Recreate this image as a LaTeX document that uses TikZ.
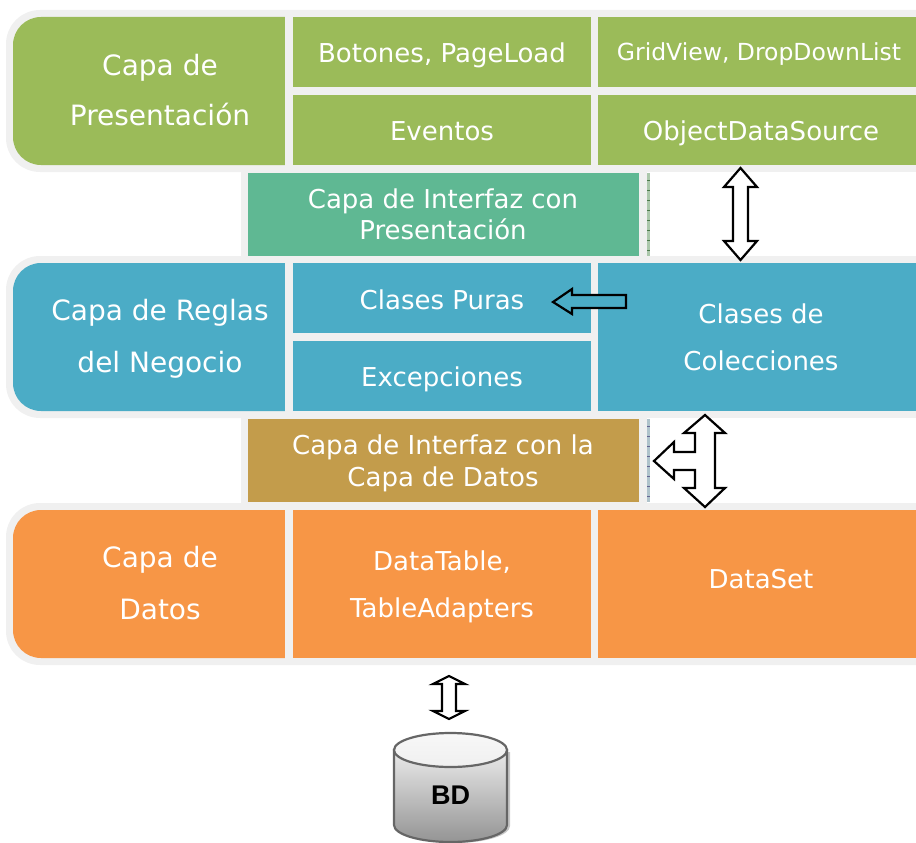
\documentclass[tikz,border=0pt]{standalone}
\usepackage{fontspec}
\setmainfont{DejaVu Sans}
\definecolor{cgreen}{HTML}{9BBB59}
\definecolor{cteal}{HTML}{5FB893}
\definecolor{cblue}{HTML}{4BACC6}
\definecolor{ctan}{HTML}{C39C4B}
\definecolor{corange}{HTML}{F79646}
\definecolor{cband}{HTML}{F0F0F0}
\tikzset{
  txt/.style={text=white,anchor=base,inner sep=0pt,font=\fontsize{#1}{#1}\selectfont},
  blockarrow/.style={draw=black,fill=white,line width=2.2pt,line join=miter},
}
\newcommand{\leftround}[5]{%
  \fill[#1,rounded corners=28pt] (#4+40,#3) -- (#2,#3) -- (#2,#5) -- (#4+40,#5) -- cycle;
  \fill[cband] (#4,#3-1) rectangle (#4+45,#5+1);}
\begin{document}
\begin{tikzpicture}[x=1pt,y=-1pt]
\useasboundingbox (0,0) rectangle (916,843);
% bands
\fill[cband] (241,165) rectangle (647,263);
\fill[cband] (241,411) rectangle (647,510);
\fill[cband,rounded corners=34pt] (960,10) -- (6,10) -- (6,172) -- (960,172) -- cycle;
\fill[cband,rounded corners=34pt] (960,256) -- (6,256) -- (6,418) -- (960,418) -- cycle;
\fill[cband,rounded corners=34pt] (960,503) -- (6,503) -- (6,665) -- (960,665) -- cycle;
\fill[white] (650,172) rectangle (916,256);
\fill[white] (650,418) rectangle (916,503);
% stripes
\fill[green!20!gray!55] (647,173) rectangle (650,256);
\foreach \y in {180,190,...,250} \draw[green!25!black!70,line width=.7pt] (647,\y) -- (650,\y);
\fill[cyan!25!gray!60] (647,419) rectangle (650,502);
\foreach \y in {426,436,...,496} \draw[blue!30!black!60,line width=.7pt] (647,\y) -- (650,\y);
% layer 1
\leftround{cgreen}{13}{17}{285}{165}
\fill[cgreen] (293,17) rectangle (591,87);
\fill[cgreen] (293,95) rectangle (591,165);
\fill[cgreen] (598,17) rectangle (916,87);
\fill[cgreen] (598,95) rectangle (916,165);
\fill[cteal] (248,173) rectangle (639,256);
% layer 2
\leftround{cblue}{13}{263}{285}{411}
\fill[cblue] (293,263) rectangle (591,333);
\fill[cblue] (293,341) rectangle (591,411);
\fill[cblue] (598,263) rectangle (916,411);
\fill[ctan] (248,419) rectangle (639,502);
% layer 3
\leftround{corange}{13}{510}{285}{658}
\fill[corange] (293,510) rectangle (591,658);
\fill[corange] (598,510) rectangle (916,658);
% texts
\node[txt=28] (t1) at (160,75) {Capa de};
\node[txt=28] (t2) at (160,125) {Presentación};
\node[txt=26] (t3) at (442,63) {Botones, PageLoad};
\node[txt=26] (t4) at (442,140) {Eventos};
\node[txt=23.5] (t5) at (759,60) {GridView, DropDownList};
\node[txt=26] (t6) at (761,140) {ObjectDataSource};
\node[txt=26] (t7) at (443,208) {Capa de Interfaz con};
\node[txt=26] (t8) at (443,239) {Presentación};
\node[txt=28] (t9) at (160,320) {Capa de Reglas};
\node[txt=28] (t10) at (160,372) {del Negocio};
\node[txt=26] (t11) at (442,309) {Clases Puras};
\node[txt=26] (t12) at (442,386) {Excepciones};
\node[txt=26] (t13) at (761,323) {Clases de};
\node[txt=26] (t14) at (761,370) {Colecciones};
\node[txt=26] (t15) at (443,454) {Capa de Interfaz con la};
\node[txt=26] (t16) at (443,486) {Capa de Datos};
\node[txt=28] (t17) at (160,567) {Capa de};
\node[txt=28] (t18) at (160,619) {Datos};
\node[txt=26] (t19) at (442,570) {DataTable,};
\node[txt=26] (t20) at (442,617) {TableAdapters};
\node[txt=26] (t21) at (761,588) {DataSet};
% arrows
\draw[blockarrow] (740.5,168) -- (757,187) -- (748,187) -- (748,241) -- (757,241) -- (740.5,260) -- (724,241) -- (733,241) -- (733,187) -- (724,187) -- cycle;
\draw[blockarrow] (705,415) -- (725,433) -- (715,433) -- (715,488) -- (725,488) -- (705,507) -- (684,488) -- (695,488) -- (695,470) -- (674,470) -- (674,479) -- (654,461) -- (674,442) -- (674,452) -- (695,452) -- (695,433) -- (684,433) -- cycle;
\draw[blockarrow,fill=cblue] (553,302) -- (572,289) -- (572,295) -- (626,295) -- (626,308) -- (572,308) -- (572,314) -- cycle;
\draw[blockarrow] (449,676) -- (465,684) -- (456,684) -- (456,711) -- (465,711) -- (449,719) -- (433,711) -- (442,711) -- (442,684) -- (433,684) -- cycle;
% cylinder
\fill[black!22] (400,752) -- (510,752) -- (510,826) arc[start angle=0,end angle=-180,x radius=55,y radius=-17] -- cycle;
\draw[draw=black!60,line width=2.2pt,top color=white!92!black,bottom color=black!42]
  (394,750) -- (394,825) arc[start angle=180,end angle=360,x radius=56.5,y radius=-17] -- (507,750) -- cycle;
\draw[draw=black!60,line width=2.2pt,top color=white!97!black,bottom color=black!6] (450.5,750) ellipse[x radius=56.5,y radius=17];
\node[anchor=base,inner sep=0pt,font=\fontspec{Liberation Sans Bold}\fontsize{27}{27}\selectfont] (bd) at (450.5,804) {BD};
\end{tikzpicture}
\end{document}
